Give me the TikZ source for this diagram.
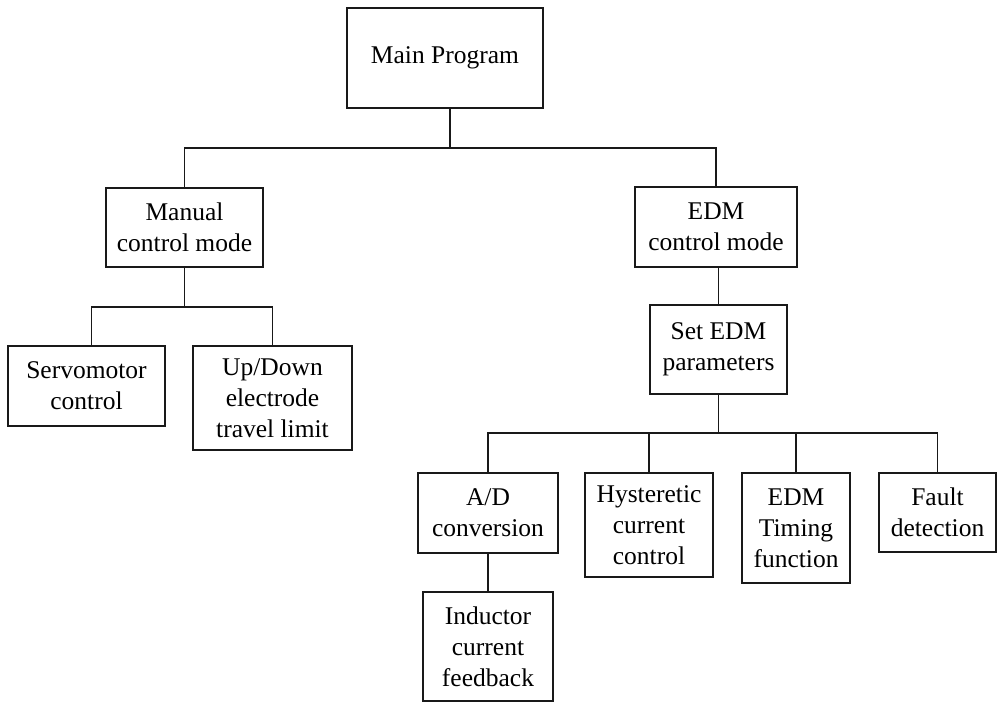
\documentclass[tikz,border=0pt]{standalone}
\usepackage{fontspec}
\setmainfont{Liberation Serif}
\begin{document}
\begin{tikzpicture}[x=1pt,y=-1pt,
  box/.style={draw=black!90, line width=1.9pt, inner sep=0pt, align=center,
    font=\fontsize{25.5}{31}\selectfont},
  link/.style={draw=black!90, line width=1.9pt}]
\useasboundingbox (0,0) rectangle (998,702);
% boxes (positions in pixel-like units)
\node[box, minimum width=196pt, minimum height=100pt] (main)   at (445,58)    {Main Program};
\node[box, minimum width=157pt, minimum height=79pt]  (manual) at (184.5,227.5) {Manual\\control mode};
\node[box, minimum width=162pt, minimum height=80pt]  (edmc)   at (716,227)   {EDM\\control mode};
\node[box, minimum width=157pt, minimum height=80pt]  (servo)  at (86.5,386)  {Servomotor\\control};
\node[box, minimum width=159pt, minimum height=104pt] (updown) at (272.5,398) {Up/Down\\electrode\\travel limit};
\node[box, minimum width=137pt, minimum height=89pt]  (setedm) at (718.5,349.5) {Set EDM\\parameters};
\node[box, minimum width=140pt, minimum height=80pt]  (ad)     at (488,513)   {A/D\\conversion};
\node[box, minimum width=128pt, minimum height=104pt] (hyst)   at (649,525)   {Hysteretic\\current\\control};
\node[box, minimum width=108pt, minimum height=110pt] (timing) at (796,528)   {EDM\\Timing\\function};
\node[box, minimum width=117pt, minimum height=79pt]  (fault)  at (937.5,512.5) {Fault\\detection};
\node[box, minimum width=130pt, minimum height=109pt] (induct) at (488,646.5) {Inductor\\current\\feedback};
% bus junctions
\coordinate (j1) at ([xshift=5pt]main.south |- 0,148);
\coordinate (j2) at (184.5,307);
\coordinate (j3) at (718.5,433);
% connectors
\draw[link] ([xshift=5pt]main.south) -- (j1);
\draw[link] (j1) -| (manual.north);
\draw[link] (j1) -| (edmc.north);
\draw[link] (manual.south) -- (j2);
\draw[link] (j2) -| ([xshift=5pt]servo.north);
\draw[link] (j2) -| (updown.north);
\draw[link] (edmc.south -| setedm.north) -- (setedm.north);
\draw[link] (setedm.south) -- (j3);
\draw[link] (j3) -| (ad.north);
\draw[link] (j3) -| (hyst.north);
\draw[link] (j3) -| (timing.north);
\draw[link] (j3) -| (fault.north);
\draw[link] (ad.south) -- (induct.north);
\end{tikzpicture}
\end{document}
